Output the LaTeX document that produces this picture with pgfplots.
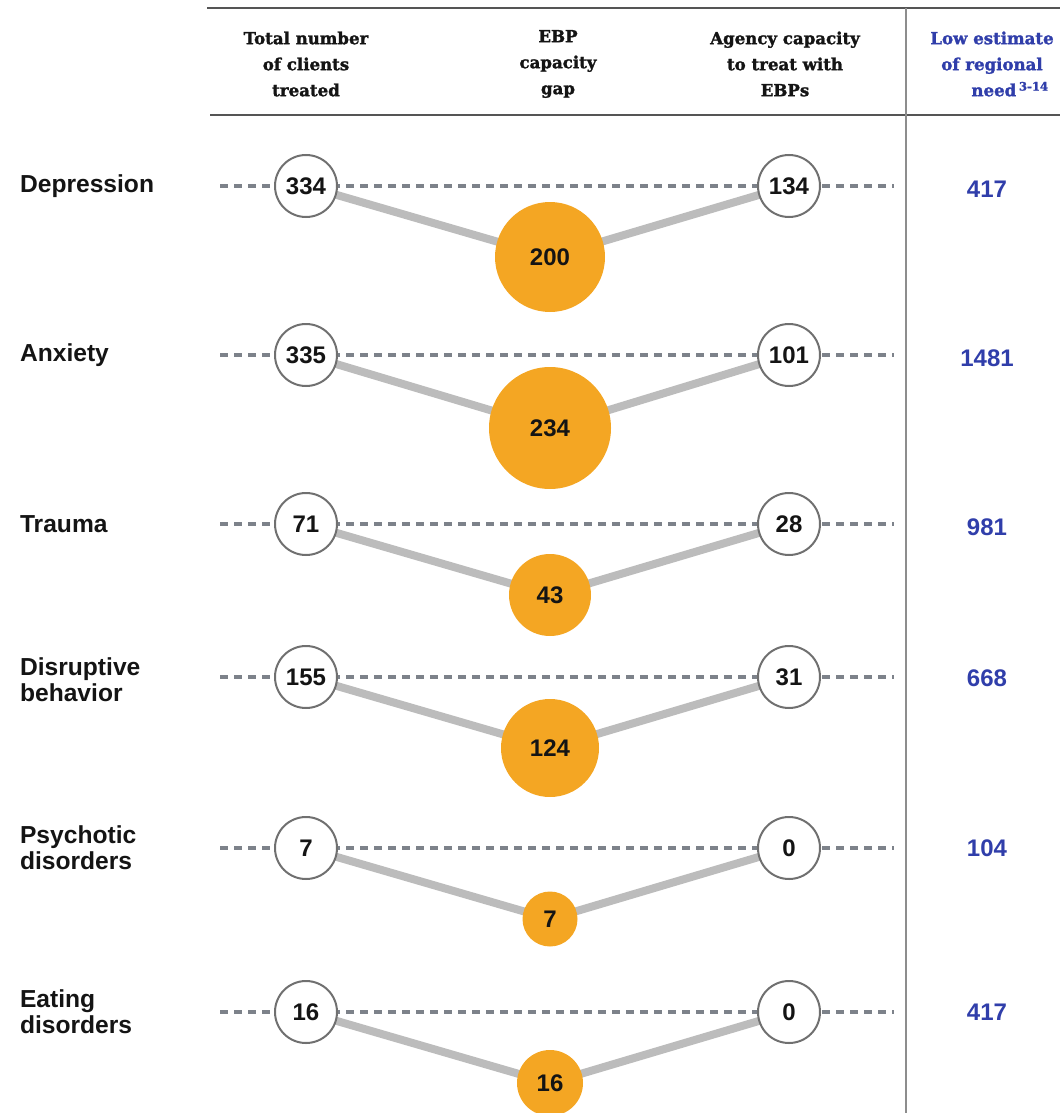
\documentclass[border=0pt]{standalone}
\usepackage{pgfplots}
\usepackage{pgfplotstable}
\pgfplotsset{compat=1.18}
\usepackage{fontspec}
\setmainfont{Liberation Sans}
\newfontfamily\hdr{DejaVu Serif}[FakeBold=1.6]
\definecolor{gapor}{RGB}{244,166,35}
\definecolor{conn}{RGB}{188,188,188}
\definecolor{dashc}{RGB}{125,130,138}
\definecolor{ring}{RGB}{112,112,112}
\definecolor{needblue}{RGB}{48,62,170}
\definecolor{rulec}{RGB}{85,85,85}
\definecolor{txt}{RGB}{20,20,20}

\pgfplotstableread{
x y d lab
306 186 62 334
306 355 62 335
306 524 62 71
306 677 62 155
306 848 62 7
306 1012 62 16
}\lefttab
\pgfplotstableread{
x y d lab
789 186 62 134
789 355 62 101
789 524 62 28
789 677 62 31
789 848 62 0
789 1012 62 0
}\righttab
\pgfplotstableread{
x y d lab
550 257 110 200
550 428 122 234
550 595 82 43
550 748 98 124
550 919 55 7
550 1083 66 16
}\gaptab
\pgfplotstableread{
x y lab
987 189 417
987 358 1481
987 527 981
987 678 668
987 848 104
987 1012 417
}\needtab

\begin{document}
\begin{tikzpicture}
\begin{axis}[scale only axis, width=530pt, height=556.5pt,
  xmin=0, xmax=1060, ymin=0, ymax=1113, y dir=reverse,
  hide axis, clip=false]

% header rules
\draw[rulec, line width=1pt] (axis cs:207,8) -- (axis cs:1060,8);
\draw[rulec, line width=1pt] (axis cs:210,115) -- (axis cs:1060,115);
\draw[ring!80, line width=1pt] (axis cs:906,8) -- (axis cs:906,1113);

% header text
\begin{scope}[every node/.style={font=\hdr\bfseries\fontsize{8.3}{13}\selectfont, align=center, text=txt}]
\node at (axis cs:306,64) {Total number\\of clients\\treated};
\node at (axis cs:558,64) {EBP\\capacity\\gap};
\node at (axis cs:785,64) {Agency capacity\\to treat with\\EBPs};
\node[text=needblue] at (axis cs:992,64) {Low estimate\\of regional\\\hspace*{2.2em}need\,\textsuperscript{3-14}};
\end{scope}

% row labels
\begin{scope}[every node/.style={font=\bfseries\fontsize{12.3}{13}\selectfont, align=left, anchor=west, text=txt}]
\node at (axis cs:13,186) {Depression};
\node at (axis cs:13,355) {Anxiety};
\node at (axis cs:13,524) {Trauma};
\node at (axis cs:13,680) {Disruptive\\behavior};
\node at (axis cs:13,848) {Psychotic\\disorders};
\node at (axis cs:13,1012) {Eating\\disorders};
\end{scope}

% dashed guide lines
\addplot[dashc, line width=1.9pt, dash pattern=on 4pt off 3pt, unbounded coords=jump] coordinates {
(220,186) (894,186) (nan,nan)
(220,355) (894,355) (nan,nan)
(220,524) (894,524) (nan,nan)
(220,677) (894,677) (nan,nan)
(220,848) (894,848) (nan,nan)
(220,1012) (894,1012)
};

% connectors
\addplot[conn, line width=4pt] coordinates {(306,186) (550,257) (789,186)};
\addplot[conn, line width=4pt] coordinates {(306,355) (550,428) (789,355)};
\addplot[conn, line width=4pt] coordinates {(306,524) (550,595) (789,524)};
\addplot[conn, line width=4pt] coordinates {(306,677) (550,748) (789,677)};
\addplot[conn, line width=4pt] coordinates {(306,848) (550,919) (789,848)};
\addplot[conn, line width=4pt] coordinates {(306,1012) (550,1083) (789,1012)};

% circles
\pgfplotsset{circ/.style={draw=none, mark=none, point meta=explicit symbolic,
  visualization depends on={\thisrow{d}\as\dd},
  nodes near coords,
  nodes near coords style={anchor=center, circle, inner sep=0pt, minimum size=\dd*0.5pt,
    font=\bfseries\fontsize{12}{14}\selectfont, text=txt}}}
\addplot[circ, nodes near coords style={fill=white, draw=ring, line width=1pt}] table[x=x, y=y, meta=lab] {\lefttab};
\addplot[circ, nodes near coords style={fill=white, draw=ring, line width=1pt}] table[x=x, y=y, meta=lab] {\righttab};
\addplot[circ, nodes near coords style={fill=gapor, draw=none}] table[x=x, y=y, meta=lab] {\gaptab};

% regional need
\addplot[draw=none, mark=none, point meta=explicit symbolic, nodes near coords,
  nodes near coords style={anchor=center, font=\bfseries\fontsize{12}{14}\selectfont, text=needblue}]
  table[x=x, y=y, meta=lab] {\needtab};
\end{axis}
\pgfresetboundingbox
\path[use as bounding box] (current axis.south west) rectangle (current axis.north east);
\end{tikzpicture}
\end{document}
